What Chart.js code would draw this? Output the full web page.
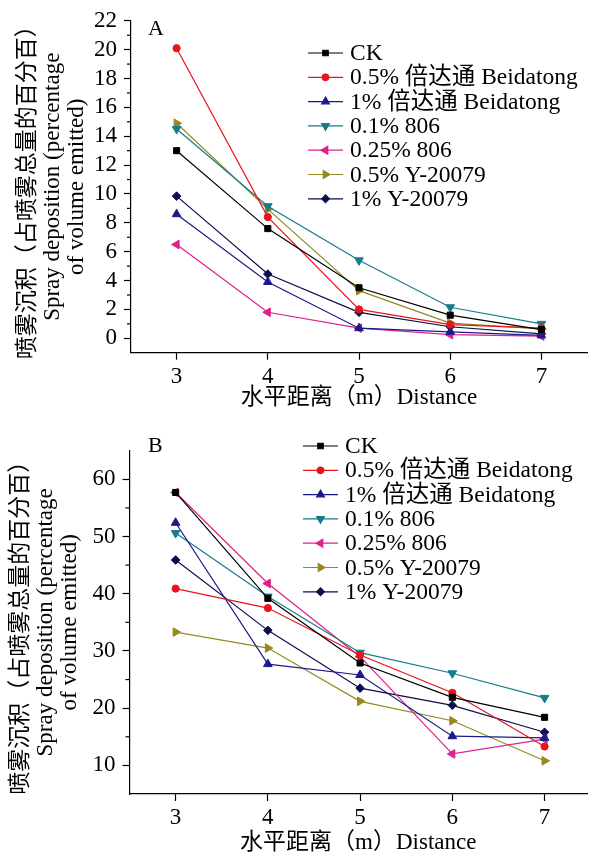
<!DOCTYPE html>
<html lang="zh">
<head>
<meta charset="UTF-8" />
<title>Spray deposition</title>
<script src="https://cdn.jsdelivr.net/npm/chart.js"></script>
<style>
    body { margin: 0; background: #fff; }
    .panel { position: absolute; left: 0; width: 593px; }
    #panelA { top: 0; height: 420px; }
    #panelB { top: 420px; height: 438px; }
</style>
</head>
<body>
<div class="panel" id="panelA"><canvas id="chartA"></canvas></div>
<div class="panel" id="panelB"><canvas id="chartB"></canvas></div>
<script>
    // distancia horizontal (m)
    const distance = [3, 4, 5, 6, 7];
    const seriesNames = ['CK', '0.5% 倍达通 Beidatong', '1% 倍达通 Beidatong', '0.1% 806',
        '0.25% 806', '0.5% Y-20079', '1% Y-20079'];

    // panel A
    const ckA      = [13.0, 7.6, 3.5, 1.6, 0.6];
    const bei05A   = [20.1, 8.4, 2.0, 0.95, 0.7];
    const bei1A    = [8.6, 3.9, 0.7, 0.45, 0.2];
    const s806_01A = [14.5, 9.15, 5.4, 2.15, 1.0];
    const s806_25A = [6.5, 1.8, 0.7, 0.25, 0.15];
    const y05A     = [14.9, 8.95, 3.3, 1.05, 0.65];
    const y1A      = [9.85, 4.45, 1.8, 0.8, 0.3];

    // panel B
    const ckB      = [57.7, 39.2, 27.9, 21.9, 18.4];
    const bei05B   = [40.9, 37.5, 29.3, 22.7, 13.3];
    const bei1B    = [52.4, 27.7, 25.8, 15.1, 14.8];
    const s806_01B = [50.6, 39.5, 29.7, 26.1, 21.8];
    const s806_25B = [57.7, 41.8, 29.0, 12.0, 14.6];
    const y05B     = [33.3, 30.5, 21.2, 17.8, 10.8];
    const y1B      = [45.9, 33.6, 23.5, 20.5, 15.8];

    const yTicksA = [0, 2, 4, 6, 8, 10, 12, 14, 16, 18, 20, 22];
    const yTicksB = [10, 20, 30, 40, 50, 60];
    const xTicks = [3, 4, 5, 6, 7];

    const FONT = "'Liberation Serif', 'Noto Sans CJK SC', serif";
    const yTitle = ['喷雾沉积（占喷雾总量的百分百）', 'Spray deposition (percentage', 'of volume emitted)'];
    const xTitle = '水平距离（m）Distance';

    // estilos de cada serie
    const styles = [
        { color: '#000000', pointStyle: 'rect', rotation: 0, radius: 4.3 },
        { color: '#e8141c', pointStyle: 'circle', rotation: 0, radius: 3.6 },
        { color: '#1a1a8c', pointStyle: 'triangle', rotation: 0, radius: 5 },
        { color: '#177b8c', pointStyle: 'triangle', rotation: 180, radius: 5 },
        { color: '#e0208c', pointStyle: 'triangle', rotation: 270, radius: 5 },
        { color: '#968a1e', pointStyle: 'triangle', rotation: 90, radius: 5 },
        { color: '#0c0c50', pointStyle: 'rectRot', rotation: 0, radius: 4.3 }
    ];

    function makeDatasets(series) {
        return series.map((vals, i) => ({
            label: seriesNames[i],
            data: vals.map((v, j) => ({ x: distance[j], y: v })),
            borderColor: styles[i].color,
            backgroundColor: styles[i].color,
            borderWidth: 1.2,
            pointStyle: styles[i].pointStyle,
            rotation: styles[i].rotation,
            pointRadius: styles[i].radius,
            pointBorderWidth: 1,
            tension: 0
        }));
    }

    // marcas menores en el eje Y + leyenda + letra del panel
    const extrasPlugin = {
        id: 'extras',
        afterDraw(chart, args, opts) {
            const ctx = chart.ctx;
            const y = chart.scales.y;
            const left = chart.chartArea.left;
            ctx.save();
            ctx.strokeStyle = '#000';
            ctx.lineWidth = 1.2;
            for (let v = y.min + opts.minorStep; v < y.max; v += opts.minorStep) {
                if (opts.majors.includes(v)) continue;
                const py = y.getPixelForValue(v);
                ctx.beginPath();
                ctx.moveTo(left - 4, py);
                ctx.lineTo(left, py);
                ctx.stroke();
            }
            // leyenda
            ctx.font = '23.5px ' + FONT;
            ctx.textBaseline = 'middle';
            chart.data.datasets.forEach((ds, i) => {
                const ly = opts.legendY + i * opts.legendDy;
                ctx.strokeStyle = ds.borderColor;
                ctx.fillStyle = ds.borderColor;
                ctx.lineWidth = 1.2;
                ctx.beginPath();
                ctx.moveTo(opts.legendX, ly);
                ctx.lineTo(opts.legendX + 35, ly);
                ctx.stroke();
                Chart.helpers.drawPoint(ctx, {
                    pointStyle: ds.pointStyle, rotation: ds.rotation,
                    radius: ds.pointRadius * 0.9, borderWidth: 1
                }, opts.legendX + 17.5, ly);
                ctx.fillStyle = '#000';
                ctx.fillText(ds.label, opts.legendX + 42, ly + 1);
            });
            ctx.font = '22px ' + FONT;
            ctx.textBaseline = 'alphabetic';
            ctx.fillStyle = '#000';
            ctx.fillText(opts.letter, 148, opts.letterY);
            ctx.restore();
        }
    };

    function makeChart(id, series, cfg) {
        return new Chart(document.getElementById(id), {
            type: 'line',
            data: { datasets: makeDatasets(series) },
            plugins: [extrasPlugin],
            options: {
                responsive: true,
                maintainAspectRatio: false,
                animation: false,
                layout: { padding: { left: 0, top: cfg.padTop, right: cfg.padRight, bottom: 0 } },
                plugins: {
                    legend: { display: false },
                    tooltip: { enabled: false },
                    extras: cfg.extras
                },
                scales: {
                    x: {
                        type: 'linear',
                        min: 2.5,
                        max: cfg.xMax,
                        afterBuildTicks: (s) => { s.ticks = xTicks.map(v => ({ value: v })); },
                        afterFit: (s) => { s.height = cfg.xHeight; },
                        grid: { drawOnChartArea: false, tickLength: 7, tickColor: '#000', tickWidth: 1.2 },
                        border: { color: '#000', width: 1.2 },
                        ticks: { color: '#000', padding: 3, maxRotation: 0, autoSkip: false, font: { family: FONT, size: 23 } },
                        title: {
                            display: true, text: xTitle, color: '#000',
                            font: { family: FONT, size: 23 },
                            padding: { top: 0, bottom: cfg.xTitlePad }
                        }
                    },
                    y: {
                        min: cfg.yMin,
                        max: cfg.yMax,
                        afterBuildTicks: (s) => { s.ticks = cfg.yTicks.map(v => ({ value: v })); },
                        afterFit: (s) => { s.width = cfg.yWidth; },
                        grid: { drawOnChartArea: false, tickLength: 7, tickColor: '#000', tickWidth: 1.2 },
                        border: { color: '#000', width: 1.2 },
                        ticks: { color: '#000', padding: 7, autoSkip: false, font: { family: FONT, size: 23 } },
                        title: {
                            display: true, text: yTitle, color: '#000',
                            font: { family: FONT, size: 23, lineHeight: '24.5px' },
                            padding: { top: cfg.yTitlePad, bottom: 0 }
                        }
                    }
                }
            }
        });
    }

    makeChart('chartA', [ckA, bei05A, bei1A, s806_01A, s806_25A, y05A, y1A], {
        padTop: 16, padRight: 5, xMax: 7.5, xHeight: 67.3, xTitlePad: 8,
        yMin: -1, yMax: 22, yTicks: yTicksA, yWidth: 131, yTitlePad: 16,
        extras: { minorStep: 1, majors: yTicksA, legendX: 308, legendY: 53, legendDy: 24.3, letter: 'A', letterY: 35 }
    });

    makeChart('chartB', [ckB, bei05B, bei1B, s806_01B, s806_25B, y05B, y1B], {
        padTop: 30.7, padRight: 0, xMax: 7.46, xHeight: 64, xTitlePad: 1,
        yMin: 5, yMax: 65, yTicks: yTicksB, yWidth: 129.5, yTitlePad: 9,
        extras: { minorStep: 5, majors: yTicksB, legendX: 303, legendY: 26, legendDy: 24.3, letter: 'B', letterY: 32 }
    });
</script>
</body>
</html>
